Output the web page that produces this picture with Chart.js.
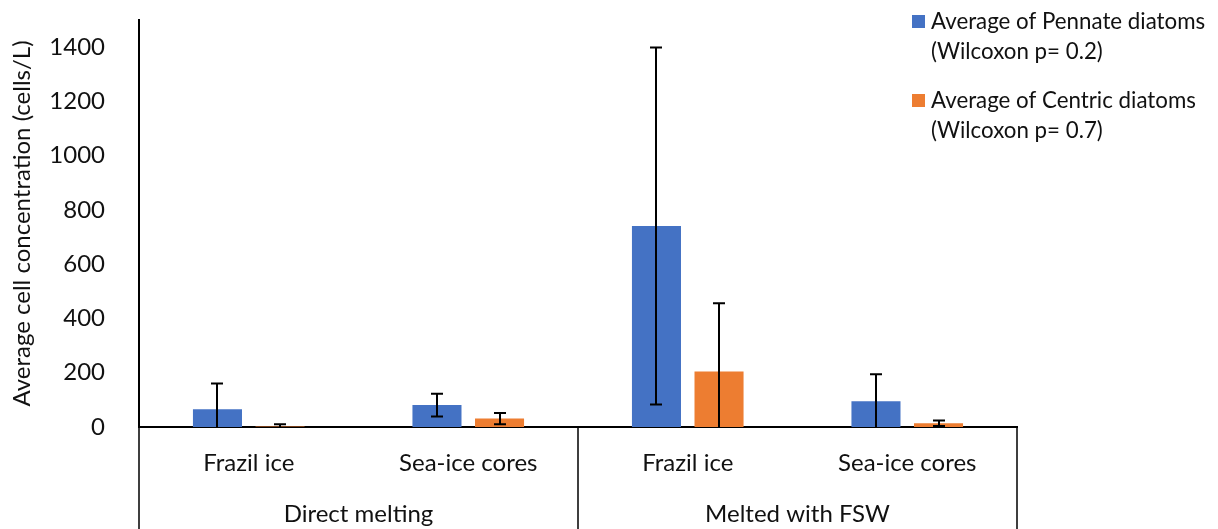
<!DOCTYPE html>
<html><head><meta charset="utf-8">
<script src="https://cdn.jsdelivr.net/npm/chart.js@4/dist/chart.umd.min.js"></script>
<style>html,body{margin:0;padding:0;background:#fff}#wrap{width:1218px;height:529px;position:relative}canvas{display:block}</style>
</head><body><div id="wrap"><canvas id="c" width="1218" height="529"></canvas></div>
<script>
const categories = ['Frazil ice', 'Sea-ice cores', 'Frazil ice', 'Sea-ice cores'];
const groups = ['Direct melting', 'Melted with FSW'];
const pennate = [65, 81, 741, 95];
const pennateErr = [95, 42, 658, 99];
const centric = [2, 31, 205, 14];
const centricErr = [8, 21, 251, 10];
const yTicks = [0, 200, 400, 600, 800, 1000, 1200, 1400];
const pennateLegend = ['Average of Pennate diatoms', '(Wilcoxon p= 0.2)'];
const centricLegend = ['Average of Centric diatoms', '(Wilcoxon p= 0.7)'];
const yTitle = 'Average cell concentration (cells/L)';

const FONT = 'Lato';
const TXT = '#111';

const errorBarPlugin = {
  id: 'errorBars',
  afterDatasetsDraw(chart) {
    const ctx = chart.ctx, y = chart.scales.y;
    chart.data.datasets.forEach((ds, i) => {
      const meta = chart.getDatasetMeta(i);
      meta.data.forEach((el, j) => {
        const v = ds.data[j], e = ds.errors[j];
        const top = y.getPixelForValue(v + e);
        const lowVal = v - e;
        const clipped = lowVal < y.min;
        const bot = y.getPixelForValue(clipped ? y.min : lowVal);
        const x = Math.round(el.x);
        ctx.save();
        ctx.strokeStyle = '#000';
        ctx.lineWidth = 2;
        ctx.beginPath();
        ctx.moveTo(x, top); ctx.lineTo(x, bot);
        ctx.moveTo(x - 6, top); ctx.lineTo(x + 6, top);
        if (!clipped) { ctx.moveTo(x - 6, bot); ctx.lineTo(x + 6, bot); }
        ctx.stroke();
        ctx.restore();
      });
    });
  }
};

const groupAxisPlugin = {
  id: 'groupAxis',
  afterDraw(chart) {
    const ctx = chart.ctx, xs = chart.scales.x;
    const left = xs.left, right = xs.right;
    const mid = (xs.getPixelForValue(1) + xs.getPixelForValue(2)) / 2;
    ctx.save();
    ctx.strokeStyle = '#000';
    ctx.lineWidth = 1.5;
    ctx.beginPath();
    [left, mid, right].forEach(px => {
      const p = Math.round(px);
      ctx.moveTo(p, xs.top); ctx.lineTo(p, chart.height);
    });
    ctx.stroke();
    ctx.fillStyle = TXT;
    ctx.font = '24px ' + FONT;
    ctx.textAlign = 'center';
    ctx.textBaseline = 'middle';
    ctx.fillText(groups[0], (left + mid) / 2, xs.top + 87);
    ctx.fillText(groups[1], (mid + right) / 2, xs.top + 87);
    ctx.restore();
  }
};

const legendPlugin = {
  id: 'customLegend',
  afterDraw(chart) {
    const ctx = chart.ctx;
    const entries = [
      { color: chart.data.datasets[0].backgroundColor, lines: pennateLegend, y: 22 },
      { color: chart.data.datasets[1].backgroundColor, lines: centricLegend, y: 101 }
    ];
    ctx.save();
    ctx.font = '22.3px ' + FONT;
    ctx.textAlign = 'left';
    ctx.textBaseline = 'middle';
    entries.forEach(en => {
      ctx.fillStyle = en.color;
      ctx.fillRect(912, en.y - 7, 13, 13);
      ctx.fillStyle = TXT;
      en.lines.forEach((t, k) => ctx.fillText(t, 931, en.y + k * 30));
    });
    ctx.restore();
  }
};

new Chart(document.getElementById('c'), {
  type: 'bar',
  data: {
    labels: categories,
    datasets: [
      { label: pennateLegend.join(' '), data: pennate, errors: pennateErr, backgroundColor: '#4472C4', categoryPercentage: 0.57, barPercentage: 0.784 },
      { label: centricLegend.join(' '), data: centric, errors: centricErr, backgroundColor: '#ED7D31', categoryPercentage: 0.57, barPercentage: 0.784 }
    ]
  },
  options: {
    responsive: false,
    animation: false,
    devicePixelRatio: 1,
    layout: { padding: { top: 20, right: 201, left: 0, bottom: 0 } },
    plugins: { legend: { display: false }, tooltip: { enabled: false } },
    scales: {
      x: {
        grid: { display: false },
        border: { display: true, color: '#000', width: 2 },
        ticks: { color: TXT, font: { family: FONT, size: 24 }, padding: 14, maxRotation: 0, autoSkip: false },
        afterFit: s => { s.height = 102; }
      },
      y: {
        min: 0, max: 1500,
        grid: { display: false },
        border: { display: true, color: '#000', width: 2 },
        afterBuildTicks: s => { s.ticks = yTicks.map(v => ({ value: v })); },
        ticks: { color: TXT, font: { family: FONT, size: 24 }, padding: 26, callback: v => String(v) },
        title: { display: true, text: yTitle, color: TXT, font: { family: FONT, size: 24 }, padding: { top: 8, bottom: 0 } },
        afterFit: s => { s.width = 139; s.paddingTop = 0; s.paddingBottom = 0; }
      }
    }
  },
  plugins: [errorBarPlugin, groupAxisPlugin, legendPlugin]
});
</script>
</body></html>
